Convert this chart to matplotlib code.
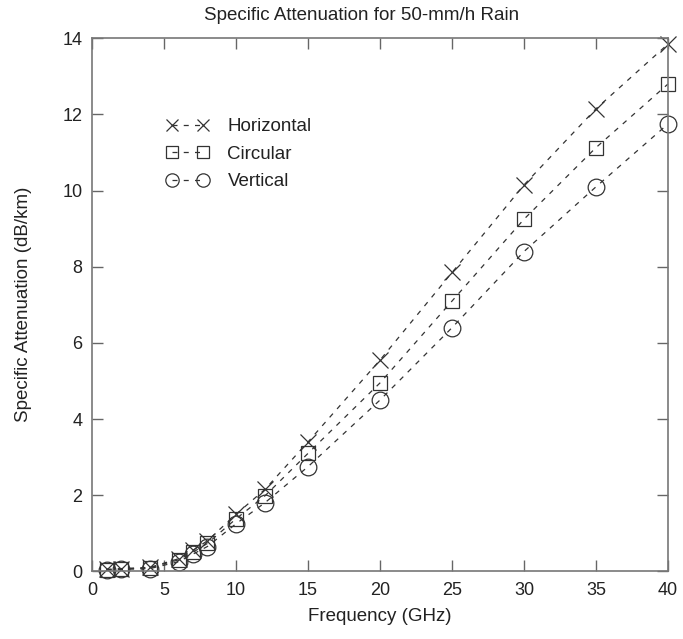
import matplotlib.pyplot as plt

plt.rcParams['font.family'] = ['Liberation Sans', 'DejaVu Sans']

# frequencies (GHz)
freq = [1, 2, 4, 6, 7, 8, 10, 12, 15, 20, 25, 30, 35, 40]

# specific attenuation (dB/km)
horizontal = [0.05, 0.07, 0.10, 0.33, 0.55, 0.80, 1.50, 2.15, 3.40, 5.55, 7.85, 10.15, 12.15, 13.85]
circular = [0.04, 0.06, 0.09, 0.30, 0.50, 0.73, 1.38, 1.98, 3.10, 4.95, 7.10, 9.25, 11.13, 12.80]
vertical = [0.03, 0.05, 0.07, 0.25, 0.45, 0.65, 1.25, 1.80, 2.75, 4.50, 6.40, 8.40, 10.10, 11.75]

xticks = [0, 5, 10, 15, 20, 25, 30, 35, 40]
yticks = [0, 2, 4, 6, 8, 10, 12, 14]

fig = plt.figure(figsize=(6.83, 6.39), dpi=100)
ax = fig.add_axes([0.135, 0.106, 0.843, 0.834])

ink = '#333333'
common = dict(linestyle='--', dashes=(4, 5), linewidth=0.9, color=ink,
              markeredgewidth=0.9, markerfacecolor='none',
              markeredgecolor=ink, clip_on=False)

ax.plot(freq, horizontal, marker='x', markersize=11, label='Horizontal', **common)
ax.plot(freq, circular, marker='s', markersize=10.5, label='Circular', **common)
ax.plot(freq, vertical, marker='o', markersize=12, label='Vertical', **common)

ax.set_xlim(0, 40)
ax.set_ylim(0, 14)
ax.set_xticks(xticks)
ax.set_yticks(yticks)
ax.tick_params(direction='in', length=8, width=1, color='#666666',
               top=True, right=True, labelsize=13, colors='#222222', pad=7)
ax.tick_params(axis='x', pad=8)
for sp in ax.spines.values():
    sp.set_color('#777777')
    sp.set_linewidth(1.2)

ax.set_xlabel('Frequency (GHz)', fontsize=13.5, color='#222222', labelpad=6)
ax.set_ylabel('Specific Attenuation (dB/km)', fontsize=13.5, color='#222222')
ax.yaxis.set_label_coords(-0.104, 0.5)
fig.text(0.530, 0.969, 'Specific Attenuation for 50-mm/h Rain', fontsize=13.5,
         color='#222222', ha='center', va='baseline')

leg = ax.legend(loc='upper left', bbox_to_anchor=(0.116, 0.864), frameon=False,
                numpoints=2, handlelength=2.25, fontsize=13.5, labelspacing=0.55,
                handletextpad=1.0, markerscale=0.8, borderaxespad=0)
for t in leg.get_texts():
    t.set_color('#222222')

fig.savefig('out.png', dpi=100)
